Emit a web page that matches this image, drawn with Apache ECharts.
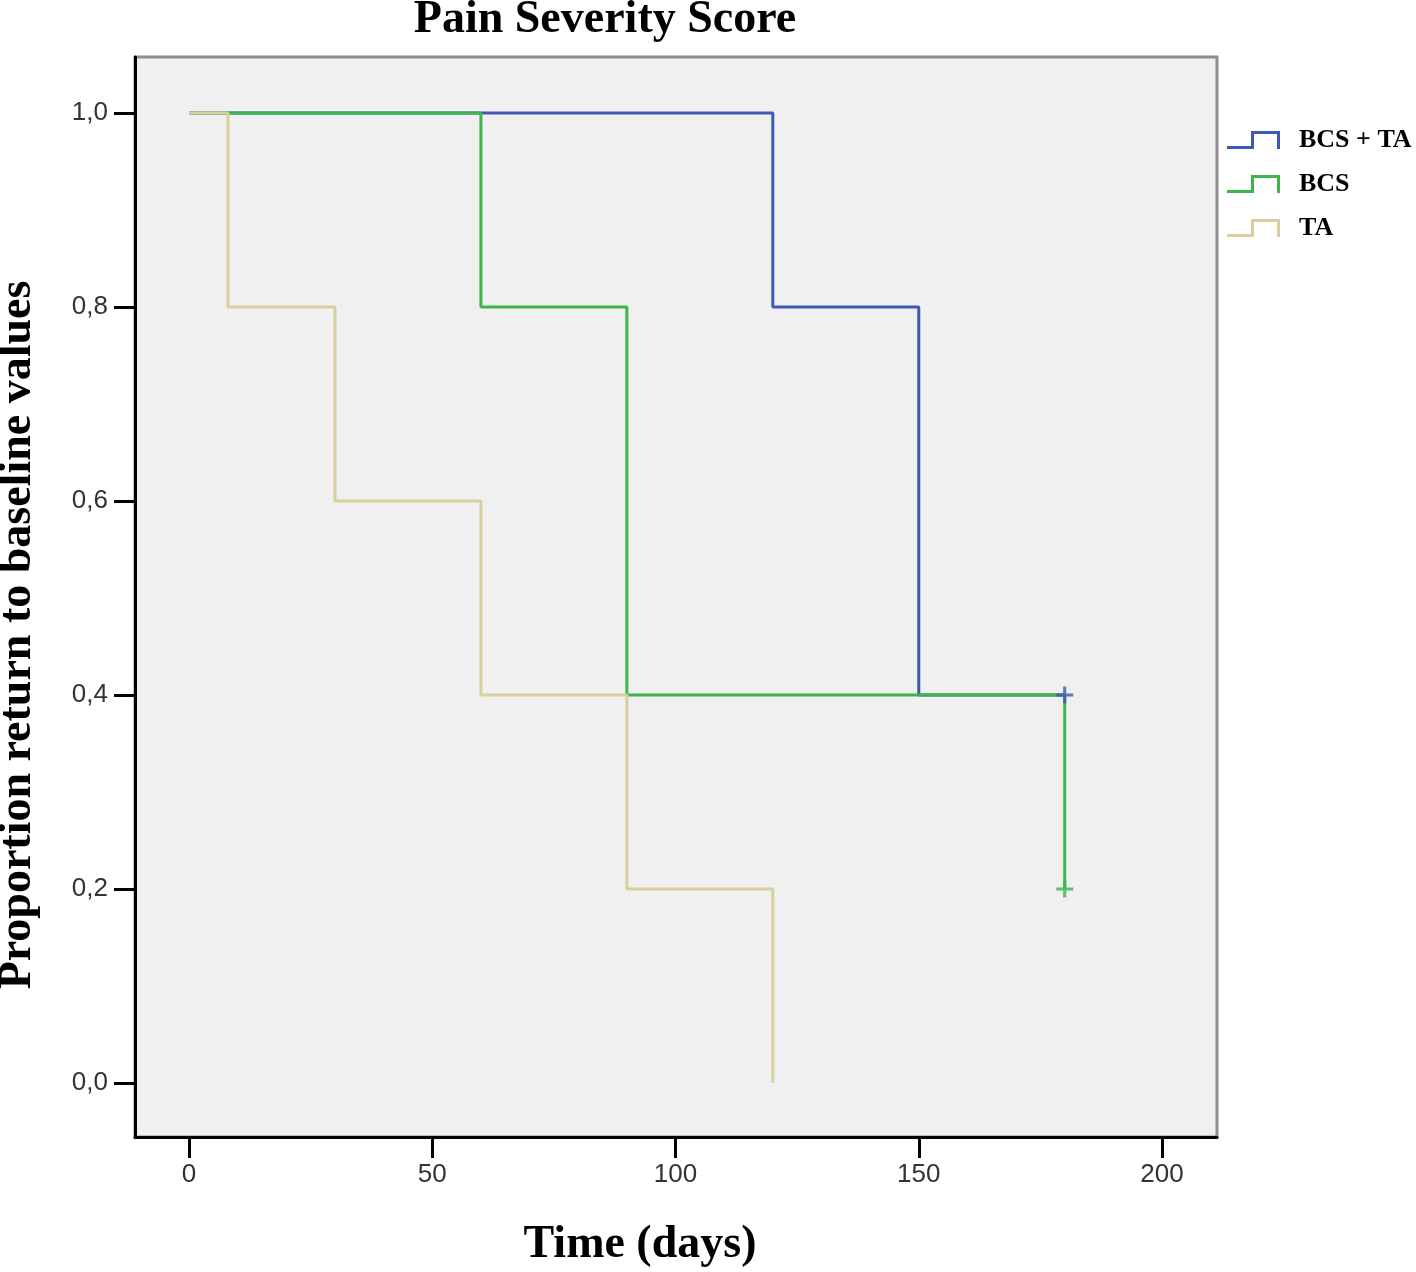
<!DOCTYPE html>
<html>
<head>
<meta charset="utf-8">
<script src="https://cdn.jsdelivr.net/npm/echarts@6/dist/echarts.min.js"></script>
<style>
  html, body { margin: 0; padding: 0; background: #ffffff; }
  #chart { width: 1416px; height: 1272px; }
</style>
</head>
<body>
<div id="chart"></div>
<script>
// ---- data ----
const seriesNames = ['BCS + TA', 'BCS', 'TA'];
const bcsTaTimes = [0, 120, 150, 180];
const bcsTaValues = [1.0, 0.8, 0.4, 0.4];
const bcsTimes = [0, 60, 90, 180, 180];
const bcsValues = [1.0, 0.8, 0.4, 0.4, 0.2];
const taTimes = [0, 8, 30, 60, 90, 120];
const taValues = [1.0, 0.8, 0.6, 0.4, 0.2, 0.0];
const bcsTaCensorTimes = [180];
const bcsTaCensorValues = [0.4];
const bcsCensorTimes = [180];
const bcsCensorValues = [0.2];
const xTicks = [0, 50, 100, 150, 200];
const yTicks = [0, 0.2, 0.4, 0.6, 0.8, 1.0];

const colors = { 'BCS + TA': '#3f58b8', 'BCS': '#3cb54a', 'TA': '#d8d09c' };

function pairs(xs, ys) { return xs.map((x, i) => [x, ys[i]]); }

const stepIcon = 'path://M0 15 L24 15 L24 0 L53 0 L53 18 L50 18 L50 3 L27 3 L27 18 L0 18 Z';
const plusIcon = 'path://M6.5 0 L9.5 0 L9.5 6.5 L16 6.5 L16 9.5 L9.5 9.5 L9.5 16 L6.5 16 L6.5 9.5 L0 9.5 L0 6.5 L6.5 6.5 Z';

const chart = echarts.init(document.getElementById('chart'), null, { renderer: 'canvas' });

function stepSeries(name, xs, ys, z) {
  return {
    name: name,
    type: 'line',
    step: 'end',
    data: pairs(xs, ys),
    symbol: 'none',
    z: z,
    lineStyle: { color: colors[name], width: 3 },
    itemStyle: { color: colors[name] },
    animation: false
  };
}
function censorSeries(name, xs, ys, z) {
  return {
    name: name,
    type: 'scatter',
    data: pairs(xs, ys),
    symbol: plusIcon,
    symbolSize: 17,
    z: z,
    itemStyle: { color: colors[name] },
    animation: false
  };
}

const option = {
  backgroundColor: '#ffffff',
  animation: false,
  title: {
    text: 'Pain Severity Score',
    left: 600, top: -8, textAlign: 'center',
    textStyle: { fontFamily: 'Liberation Serif', fontWeight: 'bold', fontSize: 46, color: '#000' }
  },
  legend: {
    orient: 'vertical',
    left: 1222, top: 122,
    itemWidth: 53, itemHeight: 18,
    itemGap: 18,
    symbolKeepAspect: false,
    icon: stepIcon,
    data: seriesNames.map(n => ({ name: n, icon: stepIcon, itemStyle: { color: colors[n], borderWidth: 0 } })),
    textStyle: { fontFamily: 'Liberation Serif', fontWeight: 'bold', fontSize: 26, color: '#000', padding: [0, 0, 0, 14] }
  },
  grid: {
    left: 135, right: 199, top: 57, bottom: 135,
    outerBoundsMode: 'none',
    containLabel: false,
    show: true, backgroundColor: '#f0f0f0', borderColor: '#8c8c8c', borderWidth: 3
  },
  xAxis: {
    type: 'value',
    min: -11.1, max: 211.3,
    name: 'Time (days)',
    nameLocation: 'middle', nameGap: 85,
    nameTextStyle: { fontFamily: 'Liberation Serif', fontWeight: 'bold', fontSize: 46, color: '#000', padding: [0, 72, 0, 0] },
    axisLine: { show: true, onZero: false, lineStyle: { color: '#000', width: 3 } },
    axisTick: { show: true, length: 21, customValues: xTicks, lineStyle: { color: '#000', width: 3 } },
    axisLabel: { customValues: xTicks, fontFamily: 'Liberation Sans', fontSize: 26, color: '#333', margin: 25 },
    splitLine: { show: false }
  },
  yAxis: {
    type: 'value',
    min: -0.0557, max: 1.0577,
    name: 'Proportion return to baseline values',
    nameLocation: 'middle', nameGap: 94,
    nameTextStyle: { fontFamily: 'Liberation Serif', fontWeight: 'bold', fontSize: 46, color: '#000', padding: [0, 76, 0, 0] },
    axisLine: { show: true, onZero: false, lineStyle: { color: '#000', width: 3 } },
    axisTick: { show: true, length: 21, customValues: yTicks, lineStyle: { color: '#000', width: 3 } },
    axisLabel: {
      customValues: yTicks, fontFamily: 'Liberation Sans', fontSize: 26, color: '#333', margin: 27,
      formatter: v => v.toFixed(1).replace('.', ',')
    },
    splitLine: { show: false }
  },
  series: [
    stepSeries('BCS + TA', bcsTaTimes, bcsTaValues, 2),
    stepSeries('BCS', bcsTimes, bcsValues, 3),
    stepSeries('TA', taTimes, taValues, 4),
    censorSeries('BCS', bcsCensorTimes, bcsCensorValues, 5),
    censorSeries('BCS + TA', bcsTaCensorTimes, bcsTaCensorValues, 6)
  ]
};
chart.setOption(option);
</script>
</body>
</html>
